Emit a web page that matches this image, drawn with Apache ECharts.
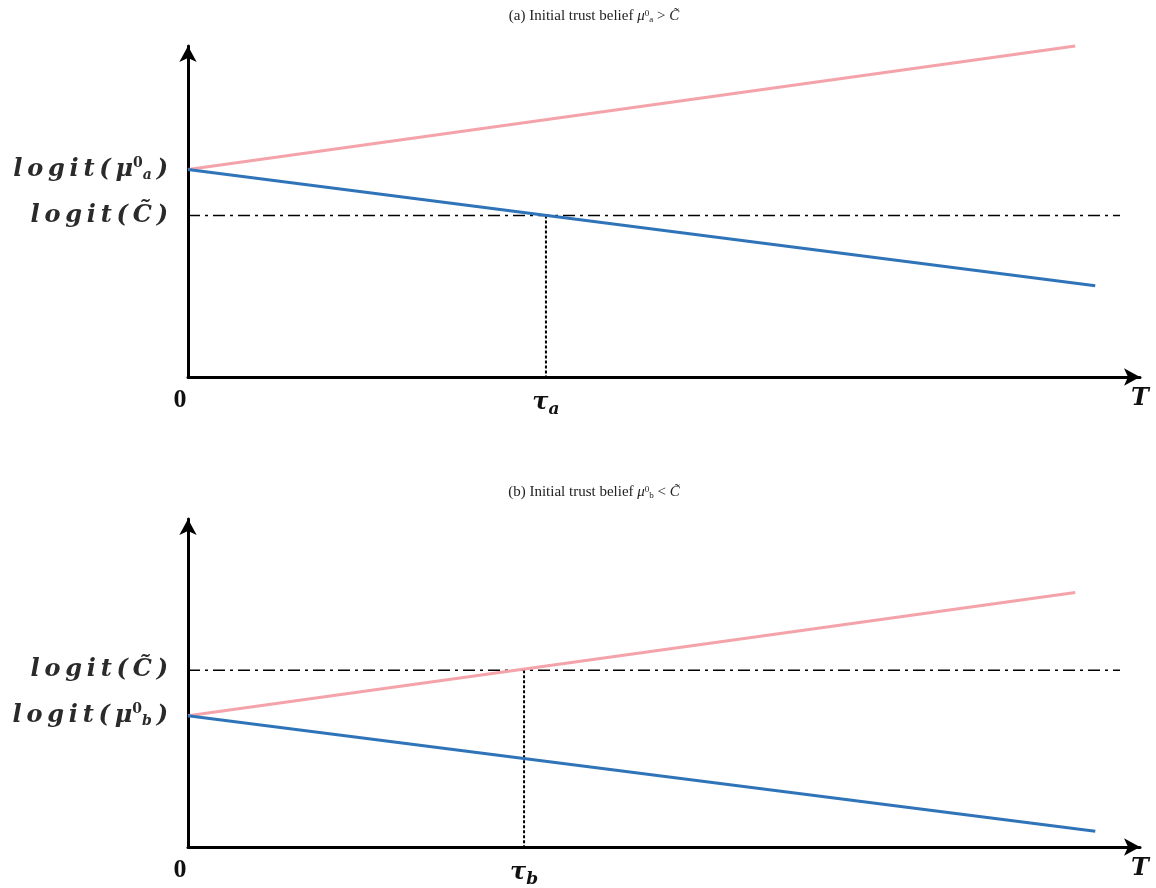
<!DOCTYPE html>
<html>
<head>
<meta charset="utf-8">
<script src="https://cdn.jsdelivr.net/npm/echarts@6/dist/echarts.min.js"></script>
<style>
  html, body { margin: 0; padding: 0; background: #fff; }
  #main { width: 1156px; height: 888px; }
</style>
</head>
<body>
<div id="main"></div>
<script>
// values (T axis 0..100, belief axis 0..100)
var titles = ['a', 'b'];
var redA = [[0, 62.7], [93.2, 100]];
var blueA = [[0, 62.7], [95.3, 27.6]];
var cA = [[0, 48.8], [97.9, 48.8]];
var tauA = [[37.6, 48.8], [37.6, 0]];

var redB = [[0, 40], [93.2, 77.6]];
var blueB = [[0, 40], [95.3, 4.8]];
var cB = [[0, 53.9], [97.9, 53.9]];
var tauB = [[35.3, 53.9], [35.3, 0]];

var yTicksA = [62.7, 48.8];
var yTicksB = [53.9, 40];
var xTicksA = [0, 37.6, 100];
var xTicksB = [0, 35.3, 100];

var labFont = 'DejaVu Serif';
var titFont = 'Liberation Serif';
var TS = '\u2009';
var rich = {
    m: { fontFamily: labFont, fontStyle: 'italic', fontWeight: 'bold', fontSize: 24, color: '#2a2a2a' },
    up: { fontFamily: labFont, fontWeight: 'bold', fontSize: 14, color: '#2a2a2a', verticalAlign: 'top', padding: [0, 0, 12, 0] },
    dn: { fontFamily: labFont, fontStyle: 'italic', fontWeight: 'bold', fontSize: 14, color: '#2a2a2a', verticalAlign: 'bottom', padding: [10, 0, 0, 0] },
    z: { fontFamily: titFont, fontWeight: 'bold', fontSize: 26, color: '#111', padding: [0, 16, 0, 0] },
    tau: { fontFamily: labFont, fontStyle: 'italic', fontWeight: 'bold', fontSize: 24, color: '#111' },
    tsub: { fontFamily: labFont, fontStyle: 'italic', fontWeight: 'bold', fontSize: 17, color: '#111', padding: [14, 0, 0, 0] }
};

// math-italic look: spread the letters a little
function spread(s) {
    return s.split('').join(TS);
}

function yLabel(p) {
    return function (v) {
        if (Math.abs(v - (p === 'a' ? yTicksA[0] : yTicksB[1])) < 0.01) {
            return '{m|' + spread('logit(μ') + '}{up|0}{dn|' + p + '}{m|' + TS + ')}';
        }
        return '{m|' + spread('logit(') + TS + 'C\u0303' + TS + ')}';
    };
}
function xLabel(p) {
    return function (v, i) {
        if (v === 0) return '{z|0}';
        if (v === 100) return '{tau|T}';
        return '{tau|τ}{tsub|' + p + '}';
    };
}

var arrowAxis = {
    show: true,
    symbol: ['none', 'arrow'],
    symbolSize: [13, 16],
    lineStyle: { color: '#000', width: 3 }
};

var titleRich = {
    g: { fontFamily: titFont, fontStyle: 'italic', fontSize: 15, color: '#222' },
    u: { fontFamily: titFont, fontSize: 9, color: '#222', verticalAlign: 'top', padding: [0, 0, 6, 0] },
    d: { fontFamily: titFont, fontSize: 9, color: '#222', verticalAlign: 'bottom', padding: [6, 0, 0, 0] }
};

function mkLine(idx, data, color) {
    return { type: 'line', xAxisIndex: idx, yAxisIndex: idx, data: data, symbol: 'none', clip: false,
        lineStyle: { color: color, width: 3 }, silent: true, animation: false };
}
function mkRef(idx, data, dash, w) {
    return { type: 'line', xAxisIndex: idx, yAxisIndex: idx, data: data, symbol: 'none', clip: false,
        lineStyle: { color: '#000', width: w, type: dash }, silent: true, animation: false };
}

var myChart = echarts.init(document.getElementById('main'));
myChart.setOption({
    backgroundColor: '#fff',
    animation: false,
    title: [
        { text: '(a) Initial trust belief {g|μ}{u|0}{d|a} > {g|C\u0303}', left: 589, top: 4, textAlign: 'center',
          textStyle: { fontFamily: titFont, fontSize: 15, fontWeight: 'normal', color: '#222', rich: titleRich } },
        { text: '(b) Initial trust belief {g|μ}{u|0}{d|b} < {g|C\u0303}', left: 589, top: 480, textAlign: 'center',
          textStyle: { fontFamily: titFont, fontSize: 15, fontWeight: 'normal', color: '#222', rich: titleRich } }
    ],
    grid: [
        { left: 188, right: 16, top: 46, height: 331 },
        { left: 188, right: 16, top: 519, height: 331 }
    ],
    xAxis: [0, 1].map(function (i) {
        return {
            type: 'value', gridIndex: i, min: 0, max: 100,
            axisLine: arrowAxis, axisTick: { show: false }, splitLine: { show: false },
            axisLabel: { customValues: i === 0 ? xTicksA : xTicksB, margin: 10, rich: rich,
                formatter: xLabel(titles[i]) }
        };
    }),
    yAxis: [0, 1].map(function (i) {
        return {
            type: 'value', gridIndex: i, min: 0, max: 100,
            axisLine: arrowAxis, axisTick: { show: false }, splitLine: { show: false },
            axisLabel: { customValues: i === 0 ? yTicksA : yTicksB, margin: 20, rich: rich,
                formatter: yLabel(titles[i]) }
        };
    }),
    series: [
        mkRef(0, cA, [12, 5, 3, 5], 1.5),
        mkRef(0, tauA, [3, 2], 2),
        mkLine(0, redA, '#f4a3aa'),
        mkLine(0, blueA, '#2f74b8'),
        mkRef(1, cB, [12, 5, 3, 5], 1.5),
        mkRef(1, tauB, [3, 2], 2),
        mkLine(1, redB, '#f4a3aa'),
        mkLine(1, blueB, '#2f74b8')
    ]
});
</script>
</body>
</html>
